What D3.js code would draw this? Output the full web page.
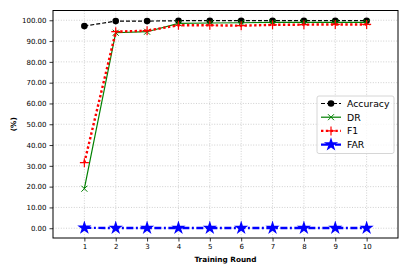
<!DOCTYPE html>
<html>
<head>
<meta charset="utf-8">
<script src="https://cdn.jsdelivr.net/npm/d3@7"></script>
<style>
  body { margin: 0; background: #fff; }
  text { font-family: "DejaVu Sans", sans-serif; }
</style>
</head>
<body>
<div id="chart-area"></div>
<script>
var rounds = [1, 2, 3, 4, 5, 6, 7, 8, 9, 10];
var accuracy = [97.2, 99.6, 99.6, 99.8, 99.8, 99.8, 99.8, 99.8, 99.8, 99.8];
var dr = [19.0, 94.0, 94.5, 98.5, 98.7, 98.8, 99.0, 99.0, 99.0, 99.0];
var f1 = [31.5, 94.5, 95.0, 97.6, 97.6, 97.4, 97.8, 97.9, 98.0, 98.0];
var far = [0.2, 0.1, 0.1, 0.1, 0.1, 0.1, 0.1, 0.1, 0.1, 0.1];
var yTicks = [0, 10, 20, 30, 40, 50, 60, 70, 80, 90, 100];

var svg = d3.select("#chart-area")
  .append("svg")
  .attr("width", 409)
  .attr("height", 273);

var margin = { top: 10.5, right: 11, bottom: 35, left: 53 };
var width = 409 - margin.left - margin.right;
var height = 273 - margin.top - margin.bottom;

var g = svg.append("g")
  .attr("transform", "translate(" + margin.left + "," + margin.top + ")");

var x = d3.scaleLinear().domain([0, 11]).range([0, width]);
var y = d3.scaleLinear().domain([-4.7, 104.7]).range([height, 0]);

// grid
g.selectAll(".gx").data(rounds).enter().append("line")
  .attr("x1", function(d) { return x(d); }).attr("x2", function(d) { return x(d); })
  .attr("y1", 0).attr("y2", height)
  .attr("stroke", "#c4c4c4").attr("stroke-width", 0.8).attr("stroke-dasharray", "1,1.6");
g.selectAll(".gy").data(yTicks).enter().append("line")
  .attr("y1", function(d) { return y(d); }).attr("y2", function(d) { return y(d); })
  .attr("x1", 0).attr("x2", width)
  .attr("stroke", "#c4c4c4").attr("stroke-width", 0.8).attr("stroke-dasharray", "1,1.6");

// axes
var xAxis = g.append("g").attr("transform", "translate(0," + height + ")")
  .call(d3.axisBottom(x).tickValues(rounds).tickSize(3.5).tickPadding(3));
var yAxis = g.append("g")
  .call(d3.axisLeft(y).tickValues(yTicks).tickFormat(d3.format(".2f")).tickSize(3.5).tickPadding(3));
[xAxis, yAxis].forEach(function(a) {
  a.select(".domain").remove();
  a.selectAll("text").style("font-size", "7px").attr("fill", "#000");
  a.selectAll("line").attr("stroke", "#000").attr("stroke-width", 0.8);
});

g.append("rect").attr("width", width).attr("height", height)
  .attr("fill", "none").attr("stroke", "#000").attr("stroke-width", 1);

svg.append("text")
  .attr("x", margin.left + width / 2).attr("y", 262)
  .attr("text-anchor", "middle").style("font-size", "7.3px").style("font-weight", "bold")
  .text("Training Round");
svg.append("text")
  .attr("transform", "translate(16," + (margin.top + y(50)) + ") rotate(-90)")
  .attr("text-anchor", "middle").style("font-size", "7.3px").style("font-weight", "bold")
  .text("(%)");

var series = [
  { name: "Accuracy", values: accuracy, color: "#000000", width: 1.2, dash: "4,2", marker: "circle" },
  { name: "DR", values: dr, color: "#008000", width: 1.2, dash: null, marker: "x" },
  { name: "F1", values: f1, color: "#ff0000", width: 2.4, dash: "2.4,2.4", marker: "plus" },
  { name: "FAR", values: far, color: "#0000ff", width: 2.4, dash: "7,2.5,2,2.5", marker: "star" }
];

var line = d3.line()
  .x(function(d, i) { return x(rounds[i]); })
  .y(function(d) { return y(d); });

function drawMarker(sel, s, px, py) {
  if (s.marker === "circle") {
    sel.append("circle").attr("cx", px).attr("cy", py).attr("r", 3.3).attr("fill", s.color);
  } else if (s.marker === "x") {
    sel.append("path").attr("d", "M" + (px - 3) + "," + (py - 3) + "L" + (px + 3) + "," + (py + 3) +
      "M" + (px - 3) + "," + (py + 3) + "L" + (px + 3) + "," + (py - 3))
      .attr("stroke", s.color).attr("stroke-width", 1);
  } else if (s.marker === "plus") {
    sel.append("path").attr("d", "M" + (px - 4.5) + "," + py + "L" + (px + 4.5) + "," + py +
      "M" + px + "," + (py - 4.5) + "L" + px + "," + (py + 4.5))
      .attr("stroke", s.color).attr("stroke-width", 1.2);
  } else if (s.marker === "star") {
    sel.append("path").attr("transform", "translate(" + px + "," + py + ")")
      .attr("d", d3.symbol().type(d3.symbolStar).size(62)())
      .attr("fill", s.color);
  }
}

series.forEach(function(s) {
  g.append("path").datum(s.values)
    .attr("d", line)
    .attr("fill", "none")
    .attr("stroke", s.color)
    .attr("stroke-width", s.width)
    .attr("stroke-dasharray", s.dash);
  var mg = g.append("g");
  s.values.forEach(function(v, i) { drawMarker(mg, s, x(rounds[i]), y(v)); });
});

// legend
var lg = svg.append("g").attr("transform", "translate(317,96)");
lg.append("rect").attr("width", 77).attr("height", 57.5).attr("rx", 2)
  .attr("fill", "#fff").attr("fill-opacity", 0.8).attr("stroke", "#cccccc").attr("stroke-width", 0.8);
series.forEach(function(s, i) {
  var yy = 7.5 + i * 13.7;
  lg.append("line").attr("x1", 4).attr("x2", 24).attr("y1", yy).attr("y2", yy)
    .attr("stroke", s.color).attr("stroke-width", s.width).attr("stroke-dasharray", s.dash);
  drawMarker(lg, s, 14, yy);
  lg.append("text").attr("x", 30).attr("y", yy + 3.3).style("font-size", "9.3px").text(s.name);
});
</script>
</body>
</html>
